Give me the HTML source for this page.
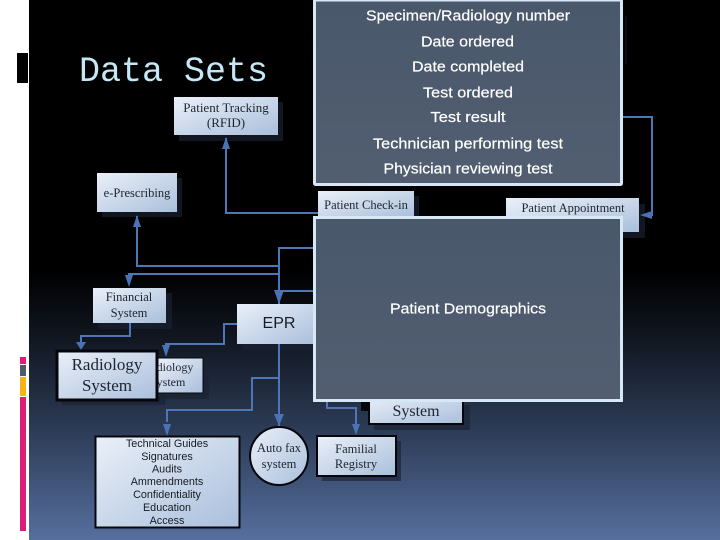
<!DOCTYPE html>
<html><head><meta charset="utf-8"><style>html,body{margin:0;padding:0;background:#fff}svg{display:block}</style></head>
<body>
<svg xmlns="http://www.w3.org/2000/svg" width="720" height="540" viewBox="0 0 720 540">
<defs>
<linearGradient id="bg" x1="0" y1="0" x2="0" y2="1">
<stop offset="0" stop-color="#000"/><stop offset="0.5" stop-color="#000"/><stop offset="0.62" stop-color="#10151f"/><stop offset="0.8" stop-color="#2d3c57"/><stop offset="1" stop-color="#566f9e"/>
</linearGradient>
<linearGradient id="b" x1="0" y1="0" x2="1" y2="1">
<stop offset="0" stop-color="#eaf0f8"/><stop offset="1" stop-color="#aabfdc"/>
</linearGradient>
<linearGradient id="p" x1="0" y1="0" x2="0" y2="1">
<stop offset="0" stop-color="#4a586c"/><stop offset="1" stop-color="#525e70"/>
</linearGradient>
</defs>
<rect width="720" height="540" fill="#fff"/>
<rect x="29" width="691" height="540" fill="url(#bg)"/>
<rect x="17" y="53" width="11" height="30" fill="#000"/>
<rect x="20" y="357" width="6" height="7" fill="#dc1e78"/>
<rect x="20" y="365" width="6" height="11" fill="#505a68"/>
<rect x="20" y="377" width="6" height="19" fill="#f7b215"/>
<rect x="20" y="397" width="6" height="134" fill="#dc1e78"/>
<text x="79" y="81" font-family="Liberation Mono, monospace" font-size="35" fill="#c5e8f6" textLength="189" lengthAdjust="spacingAndGlyphs">Data Sets</text>

<g fill="#1a2232" fill-opacity="0.65">
<rect x="179" y="102" width="104" height="39"/>
<rect x="102" y="178" width="80" height="39"/>
<rect x="98" y="293" width="74" height="36"/>
<rect x="242" y="310" width="76" height="40"/>
<rect x="62" y="358" width="103" height="47"/>
<rect x="161" y="362" width="48" height="37"/>
<rect x="323" y="196" width="96" height="25"/>
<rect x="511" y="204" width="134" height="34"/>
<rect x="374" y="405" width="96" height="25"/>
<rect x="322" y="441" width="79" height="40"/>
<rect x="625" y="16" width="2" height="48" fill-opacity="0.4"/>
</g>

<g fill="none" stroke="#4f76b4" stroke-width="2">
<path d="M226 138V213H318"/>
<path d="M137 216V266H279M313 248H279V304M279 274H129V280M279 291H313"/>
<path d="M130 323V336H81V344"/>
<path d="M237 324H224V344H166V350"/>
<path d="M279 344V426M279 378H252V410H167V422"/>
<path d="M327 402V408H356V428"/>
<path d="M623 117H652V215H646"/>
</g>
<g fill="#4a72b4">
<polygon points="226,137 222,149 230,149"/>
<polygon points="137,215 133,227 141,227"/>
<polygon points="129,287 125,275 133,275"/>
<polygon points="279,304 274,290 284,290"/>
<polygon points="81,350 76,342 86,342"/>
<polygon points="166,357 162,345 170,345"/>
<polygon points="279,426 274,414 284,414"/>
<polygon points="167,436 163,424 171,424"/>
<polygon points="356,435 352,424 360,424"/>
<polygon points="640,215 652,211 652,219"/>
</g>

<g fill="url(#b)">
<rect x="174" y="97" width="104" height="38"/>
<rect x="97" y="173" width="80" height="39"/>
<rect x="93" y="288" width="73" height="35"/>
<rect x="237" y="304" width="78" height="40"/>
<rect x="156" y="358" width="47" height="35" stroke="#05070c" stroke-width="1"/>
<rect x="318" y="191" width="96" height="26"/>
<rect x="506" y="198" width="133" height="34"/>
<rect x="57" y="351" width="100" height="49" stroke="#05070c" stroke-width="3"/>
<rect x="95.500" y="436.500" width="144" height="91" stroke="#05070c" stroke-width="2"/>
<circle cx="279" cy="456" r="29" stroke="#05070c" stroke-width="2"/>
<rect x="317" y="436" width="79" height="40" stroke="#05070c" stroke-width="2"/>
<rect x="361" y="395" width="30" height="16" fill="#05070c"/>
<rect x="369" y="395" width="94" height="29" stroke="#05070c" stroke-width="2"/>
</g>

<g font-family="Liberation Serif, serif" fill="#1d2530" text-anchor="middle">
<text x="226" y="112" font-size="13">Patient Tracking</text>
<text x="226" y="127" font-size="13">(RFID)</text>
<text x="137" y="197" font-size="12.500">e-Prescribing</text>
<text x="129" y="301" font-size="12.500">Financial</text>
<text x="129" y="317" font-size="12.500">System</text>
<text x="107" y="370" font-size="17">Radiology</text>
<text x="107" y="391" font-size="17">System</text>
<text x="175" y="371" font-size="12">diology</text>
<text x="171" y="386" font-size="12">ystem</text>
<text x="279" y="452" font-size="12.500">Auto fax</text>
<text x="279" y="468" font-size="12.500">system</text>
<text x="356" y="453" font-size="12.500">Familial</text>
<text x="356" y="468" font-size="12.500">Registry</text>
<text x="366" y="209" font-size="12.500">Patient Check-in</text>
<text x="573" y="212" font-size="12.500">Patient Appointment</text>
<text x="416" y="416" font-size="16">System</text>
</g>
<g font-family="Liberation Sans, sans-serif" fill="#151b24" text-anchor="middle">
<text x="279" y="328" font-size="16">EPR</text>
<g font-size="10.800">
<text x="167" y="447">Technical Guides</text>
<text x="167" y="460">Signatures</text>
<text x="167" y="472.500">Audits</text>
<text x="167" y="485">Ammendments</text>
<text x="167" y="498">Confidentiality</text>
<text x="167" y="511">Education</text>
<text x="167" y="524">Access</text>
</g>
</g>

<rect x="314.500" y="0" width="307" height="184.500" rx="1" fill="url(#p)" stroke="#d6e8f6" stroke-width="3"/>
<rect x="314.500" y="217.500" width="307" height="183" fill="url(#p)" stroke="#d6e8f6" stroke-width="3"/>
<g font-family="Liberation Sans, sans-serif" font-size="15" fill="#fff" stroke="#fff" stroke-width="0.2" text-anchor="middle">
<text x="468" y="20.500" textLength="204" lengthAdjust="spacingAndGlyphs">Specimen/Radiology number</text>
<text x="467.500" y="46.500" textLength="93" lengthAdjust="spacingAndGlyphs">Date ordered</text>
<text x="468" y="71.500" textLength="112" lengthAdjust="spacingAndGlyphs">Date completed</text>
<text x="468" y="97.500" textLength="90" lengthAdjust="spacingAndGlyphs">Test ordered</text>
<text x="468" y="122" textLength="75" lengthAdjust="spacingAndGlyphs">Test result</text>
<text x="468" y="148.500" textLength="190" lengthAdjust="spacingAndGlyphs">Technician performing test</text>
<text x="468" y="173.500" textLength="169" lengthAdjust="spacingAndGlyphs">Physician reviewing test</text>
<text x="468" y="313.500" textLength="156" lengthAdjust="spacingAndGlyphs">Patient Demographics</text>
</g>
</svg>
</body></html>
